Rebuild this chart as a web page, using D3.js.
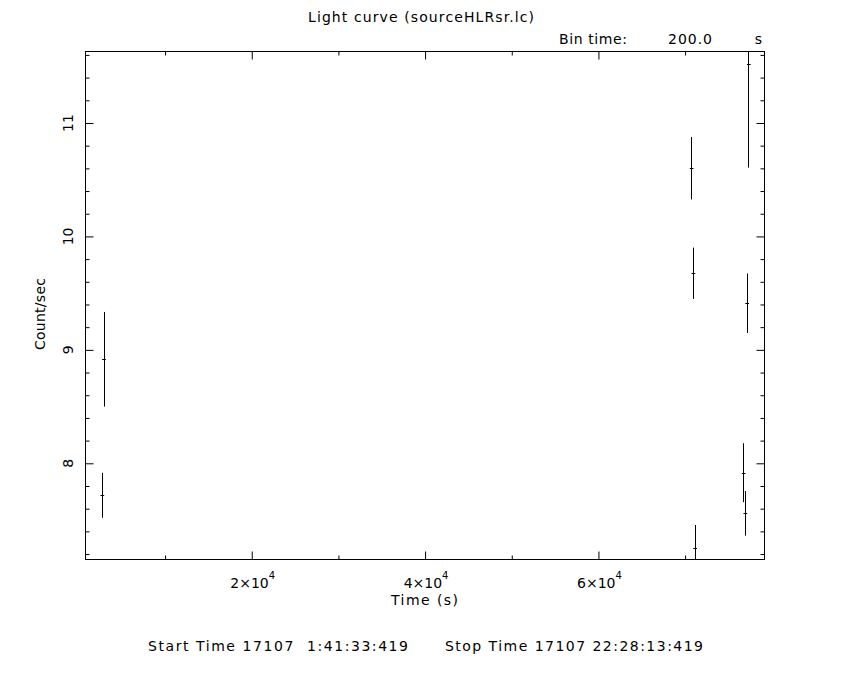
<!DOCTYPE html>
<html>
<head>
<meta charset="utf-8">
<script src="https://cdn.jsdelivr.net/npm/d3@7"></script>
<style>
  html, body { margin: 0; padding: 0; background: #fff; }
  text { font-family: "DejaVu Sans", sans-serif; font-weight: normal; fill: #000; }
</style>
</head>
<body>
<svg id="chart" width="850" height="680"></svg>
<script>
// ---- data ----
const times  = [2700, 2900, 70700, 70900, 71100, 76700, 76900, 77100, 77300]; // s
const rates  = [7.718, 8.917, 10.601, 9.675, 7.253, 7.917, 7.559, 9.411, 11.523]; // count/sec
const errors = [0.198, 0.417, 0.275, 0.226, 0.203, 0.260, 0.197, 0.262, 0.917];
const binHalf = 100; // half of 200 s bin
const xMajorTicks = [20000, 40000, 60000];
const xMajorLabels = ["2×10", "4×10", "6×10"];
const xMinorTicks = [10000, 30000, 50000, 70000];
const yMajorTicks = [8, 9, 10, 11];
const yMinorTicks = [7.2, 7.4, 7.6, 7.8, 8.2, 8.4, 8.6, 8.8, 9.2, 9.4, 9.6, 9.8, 10.2, 10.4, 10.6, 10.8, 11.2, 11.4, 11.6];
const titleText = "Light curve (sourceHLRsr.lc)";
const binText = ["Bin time:", "200.0", "s"];
const xLabel = "Time (s)";
const yLabel = "Count/sec";
const footerStart = "Start Time 17107  1:41:33:419";
const footerStop = "Stop Time 17107 22:28:13:419";

// ---- layout ----
const svg = d3.select("#chart");
const L = 85.5, R = 764.5, T = 51.5, B = 559.5;
const x = d3.scaleLinear().domain([819, 79162]).range([L, R]);
const y = d3.scaleLinear().domain([7.152, 11.630]).range([B, T]);
const FS = "14px";

svg.append("defs").append("clipPath").attr("id", "clip")
  .append("rect").attr("x", L).attr("y", T).attr("width", R - L).attr("height", B - T);

// frame
svg.append("rect").attr("x", L).attr("y", T).attr("width", R - L).attr("height", B - T)
  .attr("fill", "none").attr("stroke", "#000").attr("stroke-width", 1);

function styleAxis(g) {
  g.select(".domain").remove();
  g.selectAll("line").attr("stroke", "#000").attr("stroke-width", 1);
  g.selectAll("text").remove();
}

// x axes (bottom & top, inward ticks)
svg.append("g").attr("transform", `translate(0,${B})`)
  .call(d3.axisBottom(x).tickValues(xMajorTicks).tickSize(-8).tickFormat("")).call(styleAxis);
svg.append("g").attr("transform", `translate(0,${B})`)
  .call(d3.axisBottom(x).tickValues(xMinorTicks).tickSize(-4).tickFormat("")).call(styleAxis);
svg.append("g").attr("transform", `translate(0,${T})`)
  .call(d3.axisTop(x).tickValues(xMajorTicks).tickSize(-8).tickFormat("")).call(styleAxis);
svg.append("g").attr("transform", `translate(0,${T})`)
  .call(d3.axisTop(x).tickValues(xMinorTicks).tickSize(-4).tickFormat("")).call(styleAxis);

// y axes (left & right, inward ticks)
svg.append("g").attr("transform", `translate(${L},0)`)
  .call(d3.axisLeft(y).tickValues(yMajorTicks).tickSize(-8).tickFormat("")).call(styleAxis);
svg.append("g").attr("transform", `translate(${L},0)`)
  .call(d3.axisLeft(y).tickValues(yMinorTicks).tickSize(-4).tickFormat("")).call(styleAxis);
svg.append("g").attr("transform", `translate(${R},0)`)
  .call(d3.axisRight(y).tickValues(yMajorTicks).tickSize(-8).tickFormat("")).call(styleAxis);
svg.append("g").attr("transform", `translate(${R},0)`)
  .call(d3.axisRight(y).tickValues(yMinorTicks).tickSize(-4).tickFormat("")).call(styleAxis);

// x tick labels with superscript
xMajorTicks.forEach((v, i) => {
  const t = svg.append("text").attr("x", x(v) + 1).attr("y", 588)
    .attr("text-anchor", "middle").style("font-size", FS);
  t.append("tspan").text(xMajorLabels[i]);
  t.append("tspan").attr("dy", -9).style("font-size", "10px").text("4");
});

// y tick labels (rotated)
yMajorTicks.forEach(v => {
  svg.append("text").attr("transform", `translate(73,${y(v)}) rotate(-90)`)
    .attr("text-anchor", "middle").style("font-size", FS).text(String(v));
});

// axis titles
svg.append("text").attr("x", 391).attr("y", 605)
  .attr("textLength", 67).attr("lengthAdjust", "spacing")
  .style("font-size", FS).text(xLabel);
svg.append("text").attr("transform", `translate(45,350) rotate(-90)`)
  .attr("textLength", 72).attr("lengthAdjust", "spacing")
  .style("font-size", FS).text(yLabel);

// title & bin time
svg.append("text").attr("x", 308).attr("y", 22)
  .attr("textLength", 226).attr("lengthAdjust", "spacing")
  .style("font-size", FS).text(titleText);
svg.append("text").attr("x", 559).attr("y", 44)
  .attr("textLength", 68).attr("lengthAdjust", "spacing")
  .style("font-size", FS).text(binText[0]);
svg.append("text").attr("x", 668).attr("y", 44)
  .attr("textLength", 44).attr("lengthAdjust", "spacing")
  .style("font-size", FS).text(binText[1]);
svg.append("text").attr("x", 762).attr("y", 44).attr("text-anchor", "end")
  .style("font-size", FS).text(binText[2]);

// footer
svg.append("text").attr("x", 148).attr("y", 651)
  .attr("textLength", 260).attr("lengthAdjust", "spacing")
  .style("font-size", FS).style("white-space", "pre").text(footerStart);
svg.append("text").attr("x", 445).attr("y", 651)
  .attr("textLength", 258).attr("lengthAdjust", "spacing")
  .style("font-size", FS).style("white-space", "pre").text(footerStop);

// data: error bars
const data = times.map((t, i) => ({ t, r: rates[i], e: errors[i] }));
const g = svg.append("g").attr("clip-path", "url(#clip)");
g.selectAll("line.v").data(data).enter().append("line").attr("class", "v")
  .attr("x1", d => Math.round(x(d.t)) + 0.5).attr("x2", d => Math.round(x(d.t)) + 0.5)
  .attr("y1", d => y(d.r - d.e)).attr("y2", d => y(d.r + d.e))
  .attr("stroke", "#000").attr("stroke-width", 1);
g.selectAll("line.h").data(data).enter().append("line").attr("class", "h")
  .attr("x1", d => x(d.t - binHalf) - 0.5).attr("x2", d => x(d.t + binHalf) + 1.5)
  .attr("y1", d => Math.round(y(d.r)) + 0.5).attr("y2", d => Math.round(y(d.r)) + 0.5)
  .attr("stroke", "#000").attr("stroke-width", 1);
</script>
</body>
</html>
